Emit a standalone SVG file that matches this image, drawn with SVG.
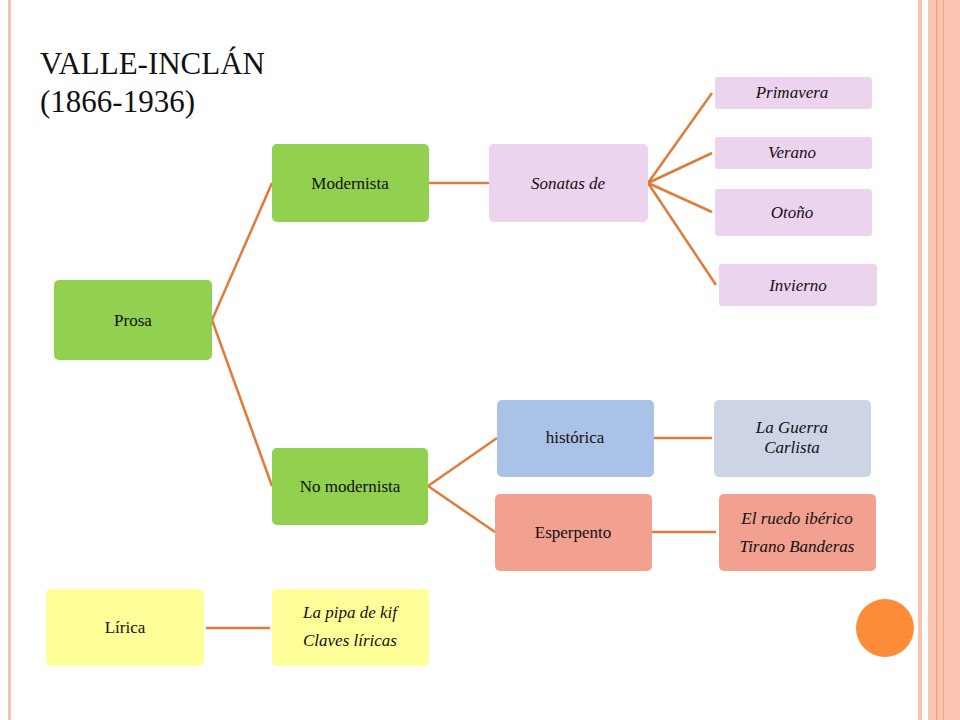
<svg xmlns="http://www.w3.org/2000/svg" width="960" height="720" viewBox="0 0 960 720">
<style>
text{font-family:"Liberation Serif",serif;font-size:17px;fill:#111;text-anchor:middle}
.i{font-style:italic}
.g{fill:#92d050}.p{fill:#ecd3ee}.b{fill:#aac1e8}.s{fill:#f2a090}.y{fill:#ffff99}.gr{fill:#cdd4e5}
#c line{stroke:#e07b39;stroke-width:2.5}
</style>
<rect width="960" height="720" fill="#fff"/>
<rect x="8" y="0" width="3" height="720" fill="#f8c2b0"/>
<rect x="918" y="0" width="4" height="720" fill="#f8c2b0"/>
<rect x="928" y="0" width="32" height="720" fill="#fac6b2"/>
<rect x="936" y="0" width="1.5" height="720" fill="#f0a080"/>
<rect x="943" y="0" width="1" height="720" fill="#f0a888"/>
<text x="40" y="74" style="font-size:31px;text-anchor:start">VALLE-INCLÁN</text>
<text x="40" y="112" style="font-size:31px;text-anchor:start">(1866-1936)</text>
<g id="c">
<line x1="212" y1="320" x2="272" y2="183"/>
<line x1="212" y1="320" x2="272" y2="486"/>
<line x1="428" y1="183" x2="489" y2="183"/>
<line x1="648" y1="183" x2="712" y2="93"/>
<line x1="648" y1="183" x2="712" y2="153"/>
<line x1="648" y1="183" x2="712" y2="212"/>
<line x1="648" y1="183" x2="716" y2="285"/>
<line x1="428" y1="486" x2="497" y2="438"/>
<line x1="428" y1="486" x2="495" y2="532"/>
<line x1="654" y1="438" x2="712" y2="438"/>
<line x1="652" y1="532" x2="716" y2="532"/>
<line x1="206" y1="628" x2="270" y2="628"/>
</g>
<g id="prosa"><rect class="g" x="54" y="280" width="158" height="80" rx="5"/><text x="133" y="326">Prosa</text></g>
<g id="modernista"><rect class="g" x="272" y="144" width="157" height="78" rx="5"/><text x="350" y="189">Modernista</text></g>
<g id="nomodernista"><rect class="g" x="272" y="448" width="156" height="77" rx="5"/><text x="350" y="492">No modernista</text></g>
<g id="sonatas"><rect class="p" x="489" y="144" width="159" height="78" rx="5"/><text class="i" x="568" y="189">Sonatas de</text></g>
<g id="primavera"><rect class="p" x="715" y="77" width="157" height="32" rx="3"/><text class="i" x="792" y="98">Primavera</text></g>
<g id="verano"><rect class="p" x="715" y="137" width="157" height="32" rx="3"/><text class="i" x="792" y="158">Verano</text></g>
<g id="otono"><rect class="p" x="715" y="189" width="157" height="47" rx="3"/><text class="i" x="792" y="218">Otoño</text></g>
<g id="invierno"><rect class="p" x="719" y="264" width="158" height="42" rx="3"/><text class="i" x="798" y="291">Invierno</text></g>
<g id="historica"><rect class="b" x="497" y="400" width="157" height="77" rx="5"/><text x="575" y="443">histórica</text></g>
<g id="guerra"><rect class="gr" x="714" y="400" width="157" height="77" rx="5"/><text class="i" x="792" y="433">La Guerra</text><text class="i" x="792" y="453">Carlista</text></g>
<g id="esperpento"><rect class="s" x="495" y="494" width="157" height="77" rx="5"/><text x="573" y="538">Esperpento</text></g>
<g id="ruedo"><rect class="s" x="719" y="494" width="157" height="77" rx="5"/><text class="i" x="797" y="524">El ruedo ibérico</text><text class="i" x="797" y="552">Tirano Banderas</text></g>
<g id="lirica"><rect class="y" x="46" y="589" width="158" height="77" rx="5"/><text x="125" y="633">Lírica</text></g>
<g id="pipa"><rect class="y" x="272" y="589" width="157" height="77" rx="5"/><text class="i" x="350" y="618">La pipa de kif</text><text class="i" x="350" y="646">Claves líricas</text></g>
<circle cx="885" cy="628" r="29" fill="#fd8c3a"/>
</svg>
